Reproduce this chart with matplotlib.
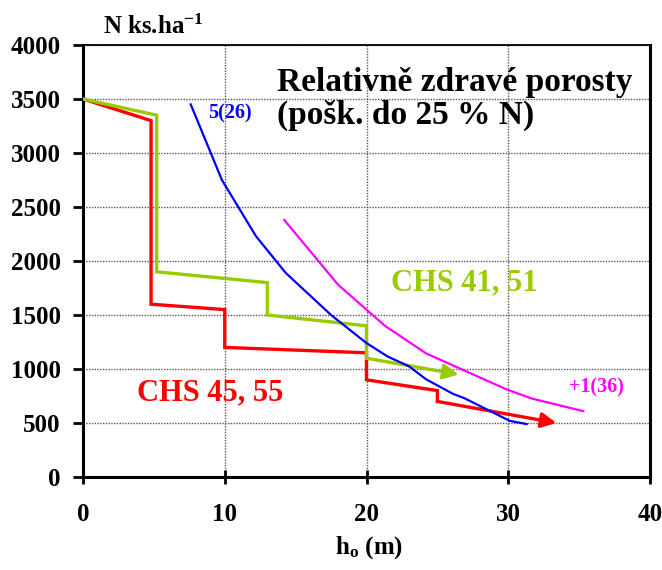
import matplotlib
matplotlib.use("Agg")
import matplotlib.pyplot as plt

plt.rcParams['font.family'] = ['Liberation Serif', 'DejaVu Serif']
plt.rcParams['font.weight'] = 'bold'
plt.rcParams['mathtext.fontset'] = 'custom'
plt.rcParams['mathtext.rm'] = 'Liberation Serif:bold'
plt.rcParams['mathtext.it'] = 'Liberation Serif:bold'
plt.rcParams['mathtext.bf'] = 'Liberation Serif:bold'

# ---- data ----
red_x = [0, 4.8, 4.8, 10, 10, 20, 20, 25, 25, 33.4]
red_y = [3500, 3300, 1600, 1550, 1200, 1150, 900, 800, 700, 500]

green_x = [0, 5.2, 5.2, 13, 13, 20, 20, 26.5]
green_y = [3500, 3350, 1900, 1800, 1500, 1400, 1100, 950]

blue_x = [7.6, 9.8, 12.2, 14.3, 17.5, 20.0, 21.5, 23.0, 24.2, 26.1, 26.9, 28.5, 30.1, 31.3]
blue_y = [3450, 2750, 2230, 1890, 1500, 1240, 1115, 1025, 905, 770, 730, 625, 520, 490]

mag_x = [14.2, 18.0, 21.3, 24.2, 29.9, 31.7, 35.3]
mag_y = [2380, 1780, 1400, 1145, 810, 725, 610]

x_ticks = [0, 10, 20, 30, 40]
y_ticks = [0, 500, 1000, 1500, 2000, 2500, 3000, 3500, 4000]

RED = '#FF0000'
GREEN = '#99CC00'
BLUE = '#0000FF'
MAG = '#FF00FF'

fig = plt.figure(figsize=(6.62, 5.70), dpi=100)
ax = fig.add_axes([83/662, 1-477/570, (650-83)/662, (477-45)/570])

ax.set_xlim(0, 40)
ax.set_ylim(0, 4000)
ax.set_xticks(x_ticks)
ax.set_yticks(y_ticks)
ax.grid(True, color='#555555', linestyle=(0, (1, 1)), linewidth=1.0)
ax.set_axisbelow(True)

for s in ['left', 'bottom', 'right']:
    ax.spines[s].set_linewidth(2.2)
ax.spines['top'].set_linewidth(1.3)

ax.tick_params(axis='x', direction='inout', length=10, width=2, pad=14, labelsize=18)
ax.tick_params(axis='y', direction='out', length=7, width=2, pad=9, labelsize=18)
for lab in ax.get_xticklabels() + ax.get_yticklabels():
    lab.set_fontweight('bold')

# step lines with arrows
ax.plot(red_x[:-1], red_y[:-1], color=RED, lw=2.4, solid_joinstyle='miter', zorder=3)
ax.annotate('', xy=(red_x[-1], red_y[-1]), xytext=(red_x[-2], red_y[-2]),
            arrowprops=dict(arrowstyle='-|>,head_length=0.9,head_width=0.45',
                            color=RED, lw=2.4, shrinkA=0, shrinkB=0), zorder=3)
ax.plot(green_x[:-1], green_y[:-1], color=GREEN, lw=2.4, solid_joinstyle='miter', zorder=3)
ax.annotate('', xy=(green_x[-1], green_y[-1]), xytext=(green_x[-2], green_y[-2]),
            arrowprops=dict(arrowstyle='-|>,head_length=0.9,head_width=0.45',
                            color=GREEN, lw=2.4, shrinkA=0, shrinkB=0), zorder=3)

ax.plot(blue_x, blue_y, color=BLUE, lw=1.6, zorder=4)
ax.plot(mag_x, mag_y, color=MAG, lw=1.6, zorder=4)

# texts
ax.text(10.4, 3370, '5(26)', color=BLUE, fontsize=14.5, fontweight='bold', ha='center', va='center')
ax.text(36.2, 827, '+1(36)', color=MAG, fontsize=14.5, fontweight='bold', ha='center', va='center')
ax.text(26.9, 1798, 'CHS 41, 51', color=GREEN, fontsize=22, fontweight='bold', ha='center', va='center')
ax.text(9.0, 780, 'CHS 45, 55', color=RED, fontsize=22, fontweight='bold', ha='center', va='center')

fig.text(277/662, 1-83/570, 'Relativně zdravé porosty', fontsize=24, fontweight='bold',
         ha='left', va='center')
fig.text(277/662, 1-115/570, '(pošk. do 25 % N)', fontsize=24, fontweight='bold',
         ha='left', va='center')

fig.text(103/662, 1-27/570, r'N ks.ha$^{-1}$', fontsize=18, fontweight='bold',
         ha='left', va='center')
fig.text(369/662, 1-548/570, r'h$_{\mathrm{o}}$ (m)', fontsize=18, fontweight='bold',
         ha='center', va='center')

fig.savefig('out.png', dpi=100)
